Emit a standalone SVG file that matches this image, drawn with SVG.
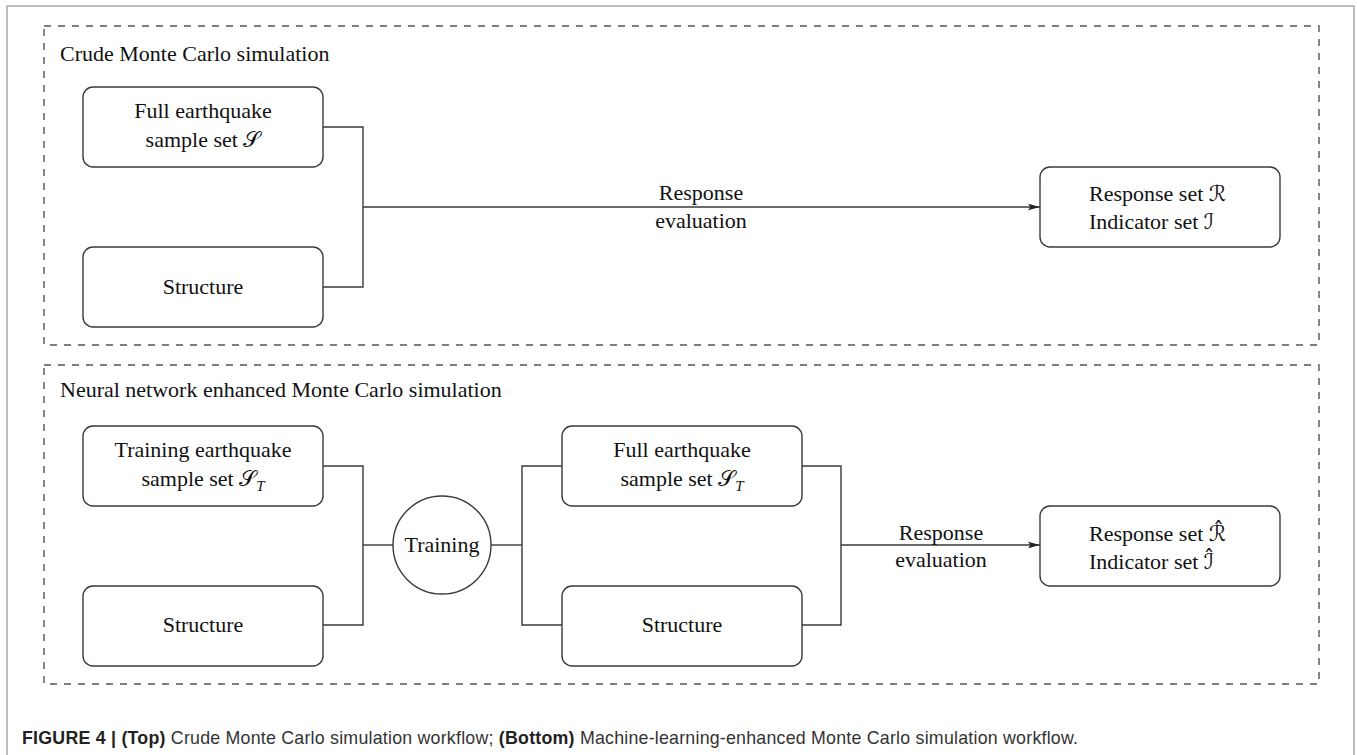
<svg xmlns="http://www.w3.org/2000/svg" width="1357" height="755" viewBox="0 0 1357 755">
<defs>
<style>
.frame{fill:none;stroke:#a8a8a8;stroke-width:1.5}
.panel{fill:none;stroke:#555;stroke-width:1.4;stroke-dasharray:7 7}
.box{fill:#fff;stroke:#3a3a3a;stroke-width:1.4}
.ln{fill:none;stroke:#3a3a3a;stroke-width:1.4}
.t{font-family:"Liberation Serif","Times New Roman",serif;font-size:22px;fill:#111}
.c{text-anchor:middle}
.m{font-family:"DejaVu Serif","DejaVu Sans","Noto Sans",serif}
.sub{font-style:italic;font-size:15px}
.cap{font-family:"Liberation Sans",Arial,sans-serif;font-size:17.8px;fill:#333}
.b{font-weight:bold;fill:#222}
</style>
<marker id="arr" viewBox="0 0 12 8" refX="12" refY="4" markerWidth="12" markerHeight="8" markerUnits="userSpaceOnUse" orient="auto">
<path d="M0,0.8 L12,4 L0,7.2 L2.5,4 z" fill="#222"/>
</marker>
</defs>
<rect width="1357" height="755" fill="#fff"/>
<rect class="frame" x="7" y="6" width="1347" height="800"/>

<g id="panel-top">
<rect class="panel" x="44" y="26" width="1275" height="319"/>
<text class="t" x="60" y="61">Crude Monte Carlo simulation</text>
</g>
<g id="panel-bottom">
<rect class="panel" x="44" y="365" width="1275" height="319"/>
<text class="t" x="60" y="397">Neural network enhanced Monte Carlo simulation</text>
</g>

<g id="connectors">
<path class="ln" d="M323,127 H363 V287 H323"/>
<path class="ln" d="M363,207 H1040" marker-end="url(#arr)"/>
<text class="t c" x="701" y="200">Response</text>
<text class="t c" x="701" y="228">evaluation</text>
<path class="ln" d="M323,466 H363 V625 H323"/>
<path class="ln" d="M363,545 H393"/>
<path class="ln" d="M491,545 H522"/>
<path class="ln" d="M562,466 H522 V625 H562"/>
<path class="ln" d="M802,466 H841 V625 H802"/>
<path class="ln" d="M841,545 H1040" marker-end="url(#arr)"/>
<text class="t c" x="941" y="540">Response</text>
<text class="t c" x="941" y="567">evaluation</text>
</g>

<g id="top-samples">
<rect class="box" x="83" y="87" width="240" height="80" rx="10"/>
<text class="t c" x="203" y="118">Full earthquake</text>
<text class="t c" x="203" y="147">sample set <tspan class="m">𝒮</tspan></text>
</g>
<g id="top-structure">
<rect class="box" x="83" y="247" width="240" height="80" rx="10"/>
<text class="t c" x="203" y="294">Structure</text>
</g>
<g id="top-result">
<rect class="box" x="1040" y="167" width="240" height="80" rx="10"/>
<text class="t" x="1089" y="201">Response set <tspan class="m">ℛ</tspan></text>
<text class="t" x="1089" y="229">Indicator set <tspan class="m">ℐ</tspan></text>
</g>

<g id="bot-training-samples">
<rect class="box" x="83" y="426" width="240" height="80" rx="10"/>
<text class="t c" x="203" y="457">Training earthquake</text>
<text class="t c" x="203" y="486">sample set <tspan class="m">𝒮</tspan><tspan class="sub" dy="5">T</tspan></text>
</g>
<g id="bot-structure-1">
<rect class="box" x="83" y="586" width="240" height="80" rx="10"/>
<text class="t c" x="203" y="632">Structure</text>
</g>
<g id="training">
<circle class="box" cx="442" cy="545" r="49"/>
<text class="t c" x="442" y="552">Training</text>
</g>
<g id="bot-full-samples">
<rect class="box" x="562" y="426" width="240" height="80" rx="10"/>
<text class="t c" x="682" y="457">Full earthquake</text>
<text class="t c" x="682" y="486">sample set <tspan class="m">𝒮</tspan><tspan class="sub" dy="5">T</tspan></text>
</g>
<g id="bot-structure-2">
<rect class="box" x="562" y="586" width="240" height="80" rx="10"/>
<text class="t c" x="682" y="632">Structure</text>
</g>
<g id="bot-result">
<rect class="box" x="1040" y="506" width="240" height="80" rx="10"/>
<text class="t" x="1089" y="541">Response set <tspan class="m">ℛ̂</tspan></text>
<text class="t" x="1089" y="569">Indicator set <tspan class="m">ℐ̂</tspan></text>
</g>

<g id="caption">
<text class="cap" x="22" y="744" textLength="1056" lengthAdjust="spacing"><tspan class="b">FIGURE 4 | (Top)</tspan> Crude Monte Carlo simulation workflow; <tspan class="b">(Bottom)</tspan> Machine-learning-enhanced Monte Carlo simulation workflow.</text>
</g>
</svg>
